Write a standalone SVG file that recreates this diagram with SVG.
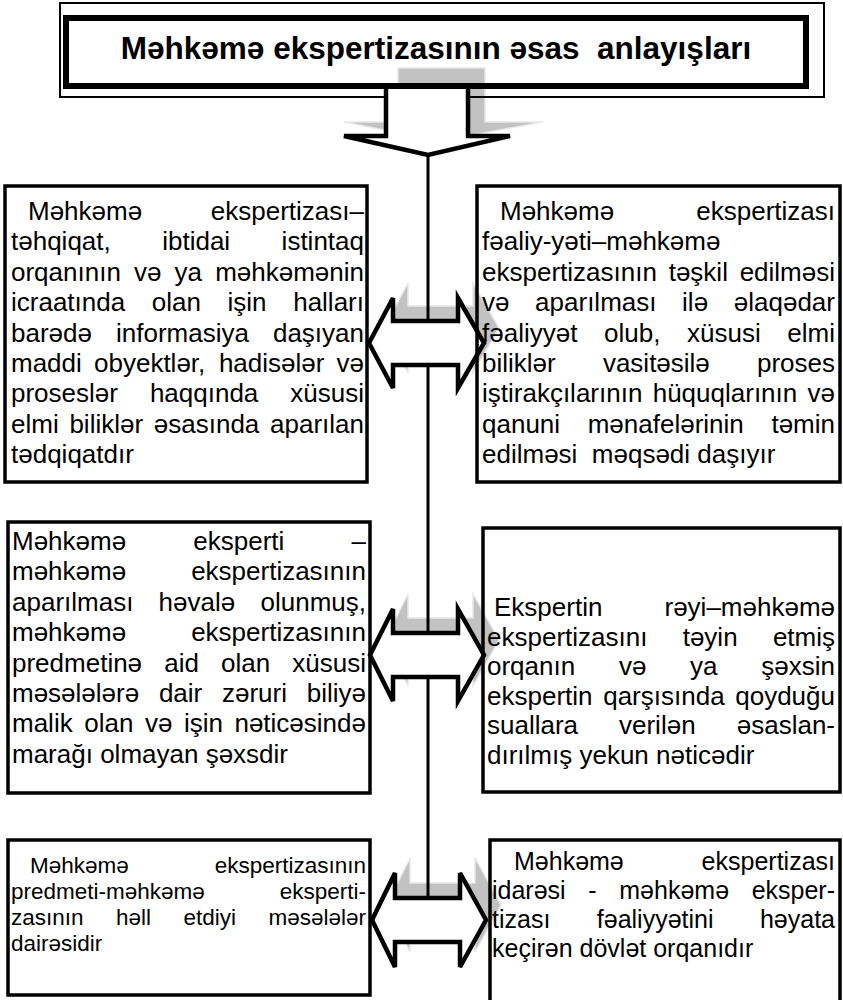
<svg xmlns="http://www.w3.org/2000/svg" width="843" height="1000" viewBox="0 0 843 1000">
<style>
.bx{fill:none;stroke:#000;stroke-width:3.5}
.t{font-family:"Liberation Sans",Arial,sans-serif;font-size:26px;fill:#000;white-space:pre}
.s{font-size:22.5px}
.m{font-size:25px}
.e{text-anchor:end}
.ttl{font-family:"Liberation Sans",Arial,sans-serif;font-size:31.5px;font-weight:bold;fill:#000;white-space:pre;text-anchor:middle}
.sh{fill:#c2c2c2;stroke:#e8e8e8;stroke-width:1.5}
.ar{fill:#fff;stroke:#000;stroke-width:4.5;stroke-linejoin:miter}
.vl{stroke:#000;stroke-width:3}
</style>
<rect width="843" height="1000" fill="#fff"/>
<g id="connectors">
<polygon class="sh" points="398,68 485,68 485,122 543,122 440,141 344,122 398,122"/>
<polygon class="sh" transform="translate(15,-15)" points="369,343 393,298 393,321 458,321 458,298 484,343 458,388 458,365 393,365 393,388"/>
<polygon class="sh" transform="translate(15,-15)" points="370,655 393,609 393,633 458,633 458,609 484,655 458,701 458,677 393,677 393,701"/>
<polygon class="sh" transform="translate(15,-15)" points="372,920 395,873 395,898 460,898 460,873 486,920 460,967 460,942 395,942 395,967"/>
<line class="vl" x1="428" y1="150" x2="428" y2="900"/>
<polygon class="ar" points="386,86 468,86 468,136 510,136 428,155 344,136 386,136"/>
<polygon class="ar" points="369,343 393,298 393,321 458,321 458,298 484,343 458,388 458,365 393,365 393,388"/>
<polygon class="ar" points="370,655 393,609 393,633 458,633 458,609 484,655 458,701 458,677 393,677 393,701"/>
<polygon class="ar" points="372,920 395,873 395,898 460,898 460,873 486,920 460,967 460,942 395,942 395,967"/>
</g>
<g id="title">
<path d="M386,97 H60 V3 H824 V97 H468" fill="none" stroke="#000" stroke-width="2"/>
<rect x="66" y="18" width="740" height="68" fill="none" stroke="#000" stroke-width="6"/>
<text class="ttl" x="436" y="59">Məhkəmə ekspertizasının əsas  anlayışları</text>
</g>
<g id="n1">
<rect class="bx" x="5" y="186" width="362" height="296"/>
<text class="t" x="28" y="220">Məhkəmə</text><text class="t e" x="364" y="220">ekspertizası–</text>
<text class="t" y="250.4"><tspan x="11">təhqiqat,</tspan><tspan x="162.2">ibtidai</tspan></text><text class="t e" x="364" y="250.4">istintaq</text>
<text class="t" y="280.8"><tspan x="11">orqanının</tspan><tspan x="134">və</tspan><tspan x="174.6">ya</tspan></text><text class="t e" x="364" y="280.8">məhkəmənin</text>
<text class="t" y="311.2"><tspan x="11">icraatında</tspan><tspan x="151.8">olan</tspan><tspan x="227.5">işin</tspan></text><text class="t e" x="364" y="311.2">halları</text>
<text class="t" y="341.6"><tspan x="11">barədə</tspan><tspan x="116">informasiya</tspan></text><text class="t e" x="364" y="341.6">daşıyan</text>
<text class="t" y="372"><tspan x="11">maddi</tspan><tspan x="94">obyektlər,</tspan><tspan x="218.9">hadisələr</tspan></text><text class="t e" x="364" y="372">və</text>
<text class="t" y="402.4"><tspan x="11">proseslər</tspan><tspan x="149.9">haqqında</tspan></text><text class="t e" x="364" y="402.4">xüsusi</text>
<text class="t" y="432.8"><tspan x="11">elmi</tspan><tspan x="69.4">biliklər</tspan><tspan x="153.8">əsasında</tspan></text><text class="t e" x="364" y="432.8">aparılan</text>
<text class="t" x="11" y="463.2">tədqiqatdır</text>
</g>
<g id="n2">
<rect class="bx" x="477" y="186" width="363" height="296"/>
<text class="t" x="500" y="220">Məhkəmə</text><text class="t e" x="835" y="220">ekspertizası</text>
<text class="t" x="482" y="250.4">fəaliy-yəti–məhkəmə</text>
<text class="t" y="280.8"><tspan x="482">ekspertizasının</tspan><tspan x="668.7">təşkil</tspan></text><text class="t e" x="835" y="280.8">edilməsi</text>
<text class="t" y="311.2"><tspan x="482">və</tspan><tspan x="535.1">aparılması</tspan><tspan x="682.1">ilə</tspan></text><text class="t e" x="835" y="311.2">əlaqədar</text>
<text class="t" y="341.6"><tspan x="482">fəaliyyət</tspan><tspan x="604">olub,</tspan><tspan x="687">xüsusi</tspan></text><text class="t e" x="835" y="341.6">elmi</text>
<text class="t" y="372"><tspan x="482">biliklər</tspan><tspan x="602.9">vasitəsilə</tspan></text><text class="t e" x="835" y="372">proses</text>
<text class="t" y="402.4"><tspan x="482">iştirakçılarının</tspan><tspan x="652.7">hüquqlarının</tspan></text><text class="t e" x="835" y="402.4">və</text>
<text class="t" y="432.8"><tspan x="482">qanuni</tspan><tspan x="587.7">mənafelərinin</tspan></text><text class="t e" x="835" y="432.8">təmin</text>
<text class="t" x="482" y="463.2">edilməsi  məqsədi daşıyır</text>
</g>
<g id="n3">
<rect class="bx" x="8" y="522" width="362" height="271"/>
<text class="t" y="550"><tspan x="12">Məhkəmə</tspan><tspan x="193.3">eksperti</tspan></text><text class="t e" x="366" y="550">–</text>
<text class="t" x="12" y="580.4">məhkəmə</text><text class="t e" x="366" y="580.4">ekspertizasının</text>
<text class="t" y="610.8"><tspan x="12">aparılması</tspan><tspan x="158.6">həvalə</tspan></text><text class="t e" x="366" y="610.8">olunmuş,</text>
<text class="t" x="12" y="641.2">məhkəmə</text><text class="t e" x="366" y="641.2">ekspertizasının</text>
<text class="t" y="671.6"><tspan x="12">predmetinə</tspan><tspan x="164.2">aid</tspan><tspan x="221">olan</tspan></text><text class="t e" x="366" y="671.6">xüsusi</text>
<text class="t" y="702"><tspan x="12">məsələlərə</tspan><tspan x="158.9">dair</tspan><tspan x="222">zəruri</tspan></text><text class="t e" x="366" y="702">biliyə</text>
<text class="t" y="732.4"><tspan x="12">malik</tspan><tspan x="84.3">olan</tspan><tspan x="144.9">və</tspan><tspan x="184">işin</tspan></text><text class="t e" x="366" y="732.4">nəticəsində</text>
<text class="t" x="12" y="762.8">marağı olmayan şəxsdir</text>
</g>
<g id="n4">
<rect class="bx" x="483" y="528" width="357" height="264"/>
<text class="t" x="494" y="616">Ekspertin</text><text class="t e" x="835" y="616">rəyi–məhkəmə</text>
<text class="t" y="645.5"><tspan x="487">ekspertizasını</tspan><tspan x="682.7">təyin</tspan></text><text class="t e" x="835" y="645.5">etmiş</text>
<text class="t" y="675"><tspan x="487">orqanın</tspan><tspan x="618.9">və</tspan><tspan x="690.1">ya</tspan></text><text class="t e" x="835" y="675">şəxsin</text>
<text class="t" y="704.5"><tspan x="487">ekspertin</tspan><tspan x="603.2">qarşısında</tspan></text><text class="t e" x="835" y="704.5">qoyduğu</text>
<text class="t" y="734"><tspan x="487">suallara</tspan><tspan x="619">verilən</tspan></text><text class="t e" x="835" y="734">əsaslan-</text>
<text class="t" x="487" y="763.5">dırılmış yekun nəticədir</text>
</g>
<g id="n5">
<rect class="bx" x="8" y="840" width="362" height="155"/>
<text class="t s" x="30" y="873">Məhkəmə</text><text class="t s e" x="366" y="873">ekspertizasının</text>
<text class="t s" x="11" y="899">predmeti-məhkəmə</text><text class="t s e" x="366" y="899">eksperti-</text>
<text class="t s" y="925"><tspan x="11">zasının</tspan><tspan x="116">həll</tspan><tspan x="183.5">etdiyi</tspan></text><text class="t s e" x="366" y="925">məsələlər</text>
<text class="t s" x="11" y="951">dairəsidir</text>
</g>
<g id="n6">
<rect class="bx" x="490" y="840" width="350" height="165"/>
<text class="t m" x="514" y="870">Məhkəmə</text><text class="t m e" x="835" y="870">ekspertizası</text>
<text class="t m" y="899"><tspan x="492">idarəsi</tspan><tspan x="588.3">-</tspan><tspan x="619.3">məhkəmə</tspan></text><text class="t m e" x="835" y="899">eksper-</text>
<text class="t m" y="928"><tspan x="492">tizası</tspan><tspan x="596.8">fəaliyyətini</tspan></text><text class="t m e" x="835" y="928">həyata</text>
<text class="t m" x="492" y="957">keçirən dövlət orqanıdır</text>
</g>
</svg>
